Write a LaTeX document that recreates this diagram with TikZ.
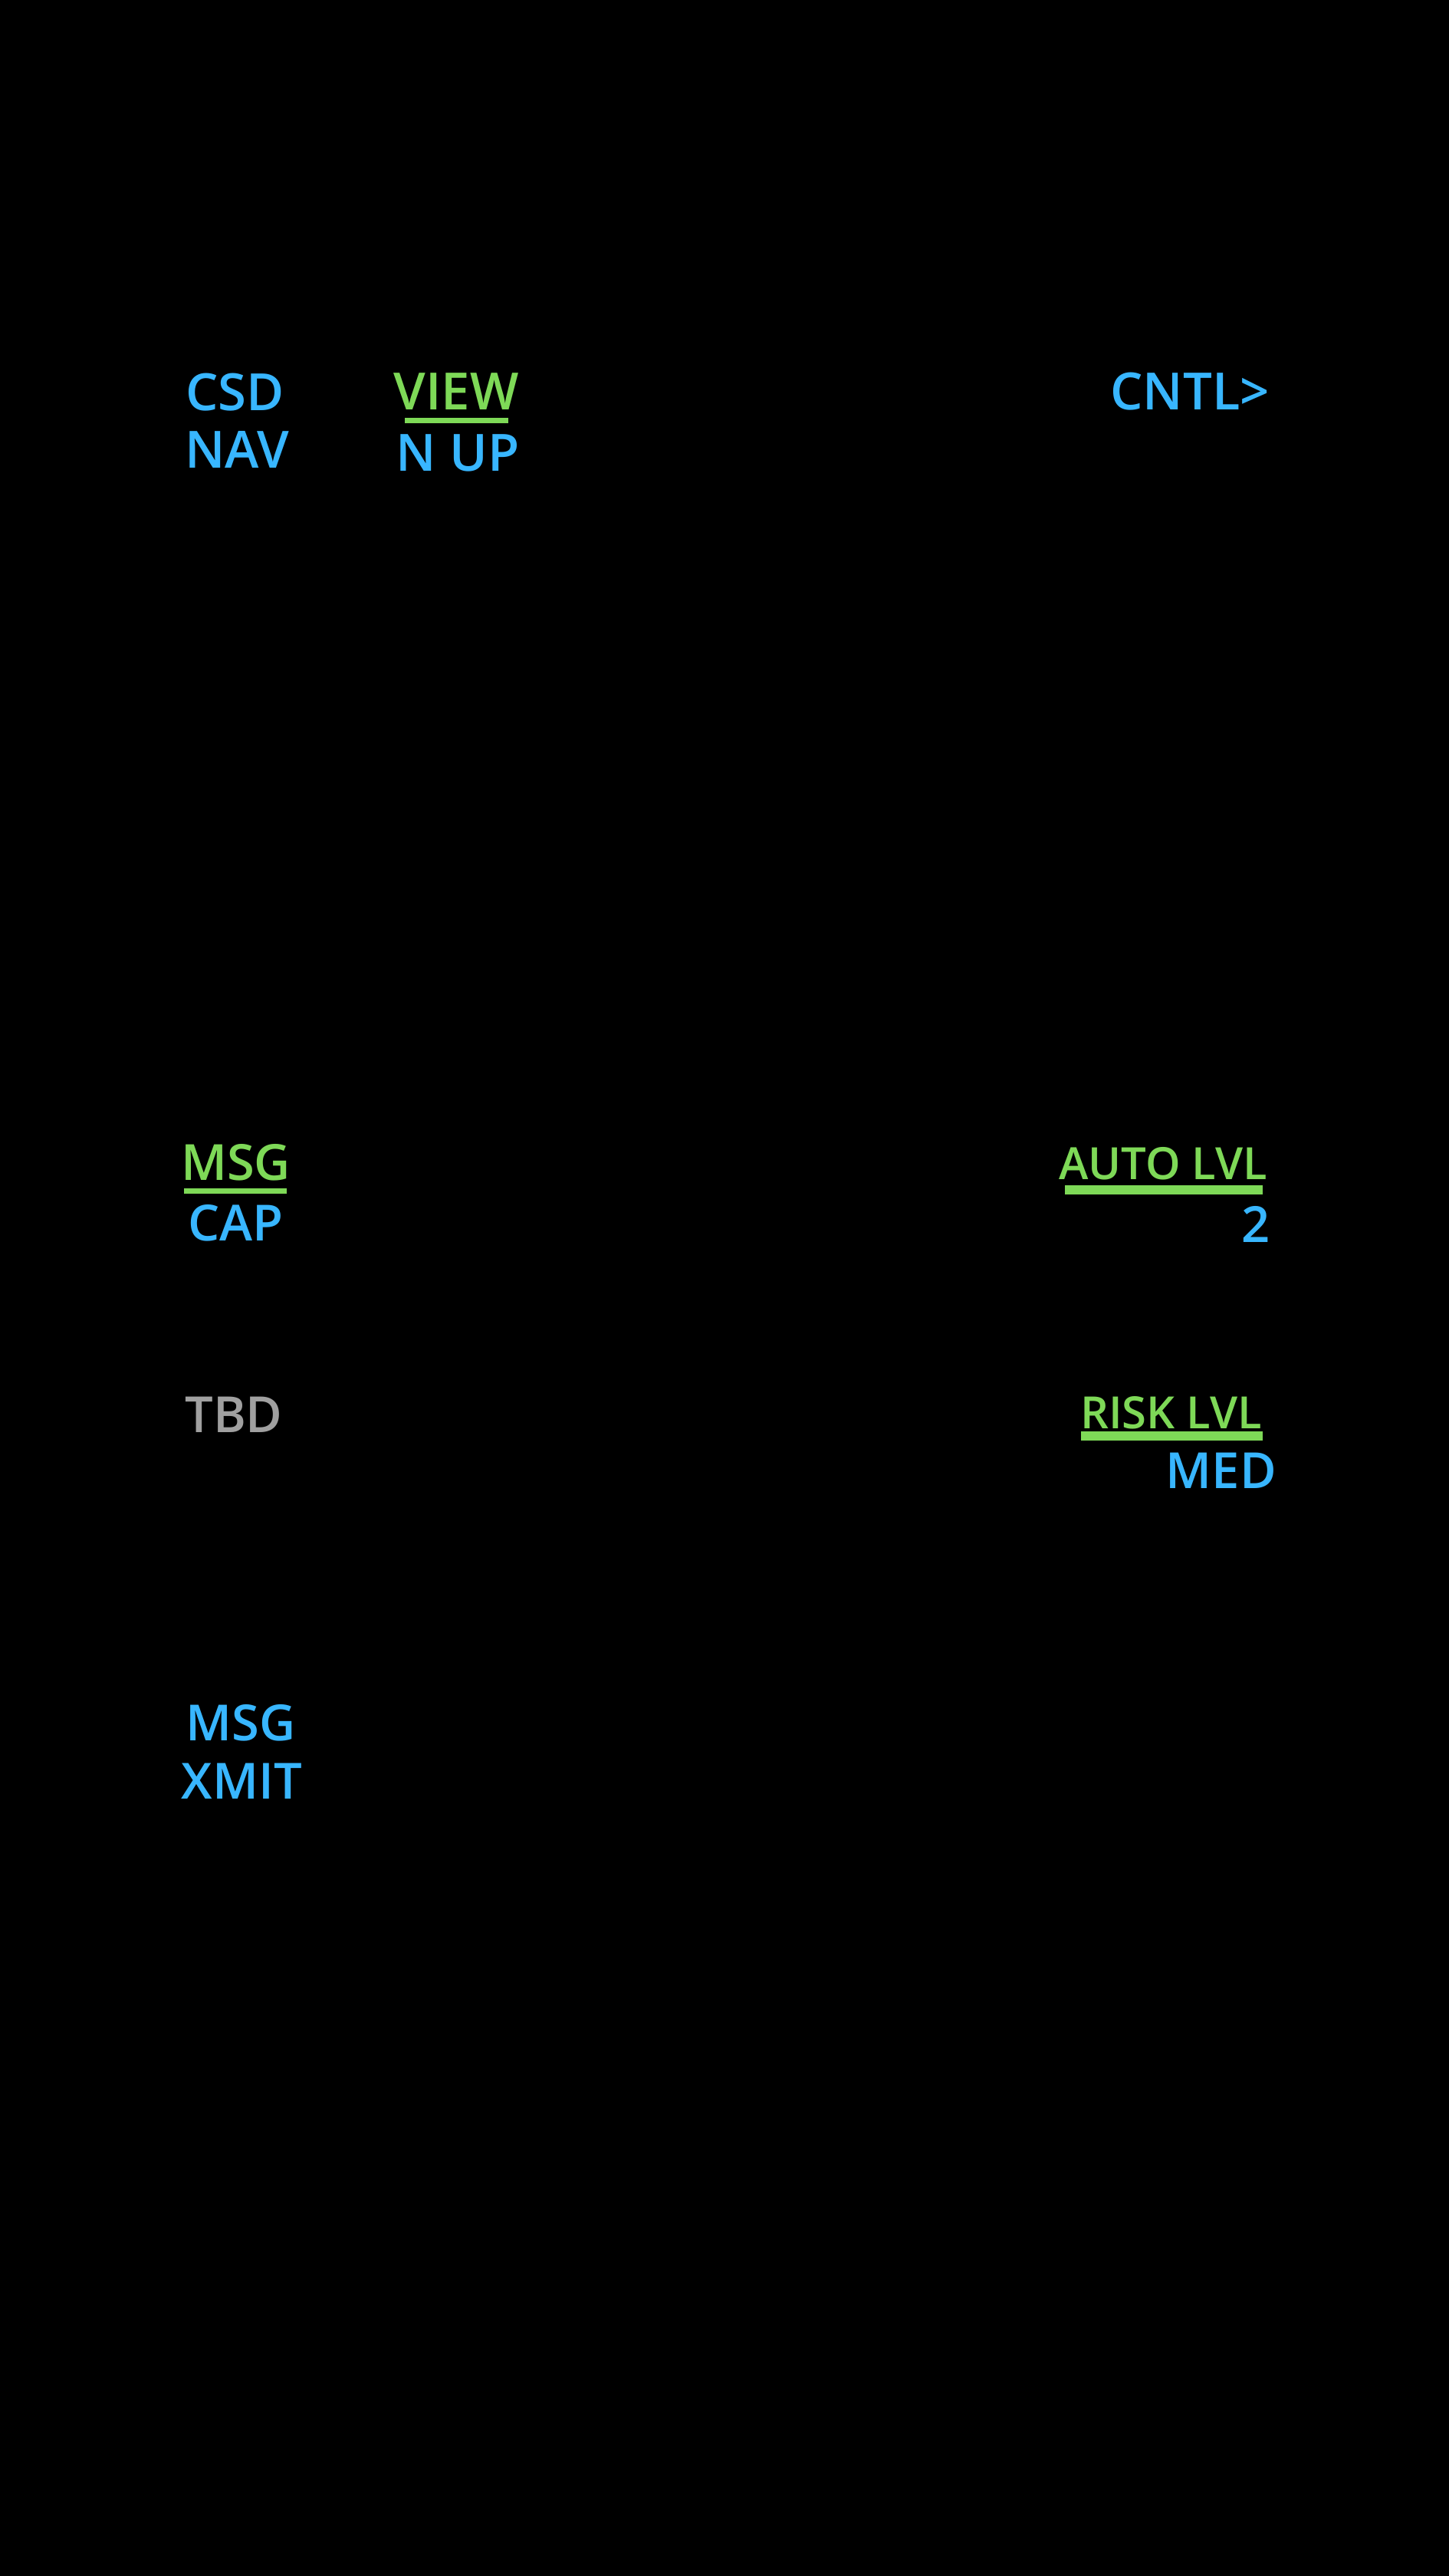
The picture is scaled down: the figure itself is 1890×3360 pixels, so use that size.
\documentclass[tikz,border=0pt]{standalone}
\usepackage{fontspec}
\setmainfont{Open Sans}[UprightFont={* Semibold}]
\definecolor{mfdblue}{HTML}{38B6FF}
\definecolor{mfdgreen}{HTML}{7ED957}
\definecolor{mfdgray}{HTML}{A0A0A0}
\tikzset{
  toplbl/.style={inner sep=0pt, anchor=base, font=\fontsize{67}{67}\selectfont},
  lbl/.style={inner sep=0pt, anchor=base, font=\fontsize{65}{65}\selectfont},
  slbl/.style={inner sep=0pt, anchor=base, font=\fontsize{58}{58}\selectfont},
  bl/.style={text=mfdblue},
  gr/.style={text=mfdgreen},
  gy/.style={text=mfdgray},
  uline/.style={draw=mfdgreen, line cap=butt}
}
\begin{document}
\begin{tikzpicture}[x=1pt,y=-1pt]
\fill[black] (0,0) rectangle (1890,3360);
\useasboundingbox (0,0) rectangle (1890,3360);
% top row
\node[toplbl,bl] (csd) at (306.5,535) {CSD};
\node[toplbl,bl] (nav) at (309,610) {NAV};
\node[toplbl,gr] (view) at (595,534) {VIEW};
\node[toplbl,bl] (nup) at (597,614) {N UP};
\node[toplbl,bl,anchor=base east] (cntl) at (1656,534) {CNTL>};
\coordinate (v1) at (528,548.5);
\coordinate (v2) at (663,548.5);
\draw[uline,line width=7pt] (v1) -- (v2);
% left column
\node[lbl,gr] (msgc) at (307.5,1539) {MSG};
\node[lbl,bl] (cap) at (307.5,1618) {CAP};
\coordinate (m1) at (240,1553.5);
\coordinate (m2) at (374,1553.5);
\draw[uline,line width=7pt] (m1) -- (m2);
\node[lbl,gy] (tbd) at (305,1868) {TBD};
\node[lbl,bl] (msgx) at (314,2270) {MSG};
\node[lbl,bl] (xmit) at (315.5,2346) {XMIT};
% right column
\node[slbl,gr,anchor=base east] (auto) at (1653,1538) {AUTO LVL};
\node[lbl,bl,anchor=base east] (two) at (1657,1620) {2};
\coordinate (a1) at (1389,1552);
\coordinate (a2) at (1647,1552);
\draw[uline,line width=12pt] (a1) -- (a2);
\node[slbl,gr,anchor=base east] (risk) at (1646,1863) {RISK LVL};
\node[lbl,bl,anchor=base east] (med) at (1665,1941) {MED};
\coordinate (r1) at (1410,1873);
\coordinate (r2) at (1647,1873);
\draw[uline,line width=12pt] (r1) -- (r2);
\end{tikzpicture}
\end{document}
